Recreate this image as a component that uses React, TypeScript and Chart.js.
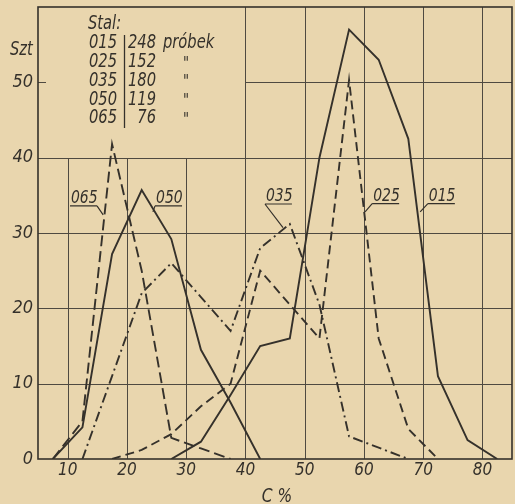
import React, { useEffect, useRef } from 'react';
import { Chart, registerables } from 'chart.js';

Chart.register(...registerables);

// ---- data (class midpoints in C %, counts "Szt") ----
const xTicks = [10, 20, 30, 40, 50, 60, 70, 80];
const yTicks = [0, 10, 20, 30, 40, 50, 60];

const cls015 = [27.5, 32.5, 37.5, 42.5, 47.5, 52.5, 57.5, 62.5, 67.5, 72.5, 77.5, 82.5];
const val015 = [0, 2.3, 8.5, 15, 16, 40, 57, 53, 42.5, 11, 2.5, 0];

const cls025 = [17.5, 22.5, 27.5, 32.5, 37.5, 42.5, 47.5, 52.5, 57.5, 62.5, 67.5, 72.5];
const val025 = [0, 1.2, 3.3, 7, 10, 25, 20.5, 16, 50.3, 16, 4, 0];

const cls035 = [12.5, 17.5, 22.5, 27.5, 32.5, 37.5, 42.5, 47.5, 52.5, 57.5, 62.5, 67.5];
const val035 = [0, 11, 22, 26, 21.5, 17, 28, 31.2, 20.5, 3, 1.5, 0];

const cls050 = [7.5, 12.5, 17.5, 22.5, 27.5, 32.5, 37.5, 42.5];
const val050 = [0, 4.2, 27.2, 35.7, 29.2, 14.5, 7.5, 0];

const cls065 = [7.5, 12.5, 17.5, 22.5, 27.5, 32.5, 37.5];
const val065 = [0, 5, 41.8, 25, 2.8, 1.4, 0];

const steelGrades = ['015', '025', '035', '050', '065'];
const sampleCounts = ['248', '152', '180', '119', '76'];

const FONT = "'Liberation Sans Narrow', 'DejaVu Sans Condensed', 'Arial Narrow', 'Roboto', sans-serif";
const INK = '#35312b';
const GRID = '#4f4a41';
const BG = '#e9d6ae';
const SQUEEZE = 0.86;

const series = [
  { name: '015', xs: cls015, ys: val015, dash: [] as number[] },
  { name: '025', xs: cls025, ys: val025, dash: [9, 5] },
  { name: '035', xs: cls035, ys: val035, dash: [10, 4, 2, 4] },
  { name: '050', xs: cls050, ys: val050, dash: [] as number[] },
  { name: '065', xs: cls065, ys: val065, dash: [11, 5] },
];

// label annotations: underline-left (data), leader end (data), leader from 'l' or 'r'
const curveLabels = [
  { text: '065', ux: 10.4, uy: 33.6, lx: 16.0, ly: 32.4, side: 'r' },
  { text: '050', ux: 24.75, uy: 33.6, lx: 24.4, ly: 32.8, side: 'l' },
  { text: '035', ux: 43.3, uy: 33.85, lx: 46.35, ly: 30.7, side: 'l' },
  { text: '025', ux: 61.4, uy: 33.9, lx: 60.2, ly: 32.8, side: 'l' },
  { text: '015', ux: 70.8, uy: 33.9, lx: 69.5, ly: 32.8, side: 'l' },
];

const font = (size: number) => `italic ${size}px ${FONT}`;

function txt(ctx: CanvasRenderingContext2D, s: string, x: number, y: number, align: CanvasTextAlign) {
  ctx.save();
  ctx.translate(x, y);
  ctx.scale(SQUEEZE, 1);
  ctx.textAlign = align;
  ctx.fillText(s, 0, 0);
  ctx.restore();
}

export default function App() {
  const ref = useRef<HTMLCanvasElement>(null);

  useEffect(() => {
    const canvas = ref.current!;
    const decor = {
      id: 'decor',
      beforeDatasetsDraw(chart: any) {
        const { ctx, chartArea: a, scales } = chart;
        const x = scales.x, y = scales.y;
        const cutX = Math.round(x.getPixelForValue(40)) + 0.5;
        const cutY = Math.round(y.getPixelForValue(40)) + 0.5;
        ctx.save();
        ctx.strokeStyle = GRID;
        ctx.lineWidth = 1;
        ctx.beginPath();
        for (const v of xTicks) {
          const px = Math.round(x.getPixelForValue(v)) + 0.5;
          ctx.moveTo(px, v < 40 ? cutY : a.top);
          ctx.lineTo(px, a.bottom);
        }
        for (const v of yTicks) {
          if (v === 0 || v === 60) continue;
          const py = Math.round(y.getPixelForValue(v)) + 0.5;
          ctx.moveTo(v > 40 ? cutX : a.left, py);
          ctx.lineTo(a.right, py);
        }
        ctx.stroke();
        // tick mark at 50
        const p50 = Math.round(y.getPixelForValue(50)) + 0.5;
        ctx.beginPath();
        ctx.moveTo(a.left, p50);
        ctx.lineTo(a.left + 8, p50);
        ctx.stroke();
        // frame
        ctx.strokeStyle = INK;
        ctx.lineWidth = 1.6;
        ctx.strokeRect(a.left, a.top, a.right - a.left, a.bottom - a.top);
        ctx.restore();
      },
      afterDraw(chart: any) {
        const { ctx, chartArea: a, scales } = chart;
        const x = scales.x, y = scales.y;
        ctx.save();
        ctx.fillStyle = INK;
        ctx.strokeStyle = INK;
        ctx.textBaseline = 'middle';
        // "Szt"
        ctx.font = font(19);
        txt(ctx, 'Szt', a.left - 28, a.top + 43, 'left');
        // legend table
        const L = a.left, T = a.top;
        ctx.font = font(19);
        txt(ctx, 'Stal:', L + 50, T + 17.5, 'left');
        steelGrades.forEach((g, i) => {
          const cy = T + 36.5 + i * 18.7;
          txt(ctx, g, L + 51, cy, 'left');
          txt(ctx, sampleCounts[i], L + 118, cy, 'right');
          if (i === 0) {
            txt(ctx, 'próbek', L + 125, cy, 'left');
          } else {
            ctx.font = font(17);
            txt(ctx, '"', L + 148, cy + 2, 'center');
            ctx.font = font(19);
          }
        });
        ctx.lineWidth = 1.3;
        ctx.beginPath();
        ctx.moveTo(L + 86.5, T + 28);
        ctx.lineTo(L + 86.5, T + 121);
        ctx.stroke();
        // "C %"
        ctx.font = font(20);
        txt(ctx, 'C %', (a.left + a.right) / 2 + 2, a.bottom + 38, 'center');
        // curve labels
        ctx.font = font(18);
        ctx.textBaseline = 'alphabetic';
        ctx.lineWidth = 1.2;
        for (const c of curveLabels) {
          const ux = x.getPixelForValue(c.ux);
          const uy = y.getPixelForValue(c.uy);
          const w = 27;
          txt(ctx, c.text, ux + 1, uy - 3, 'left');
          ctx.beginPath();
          ctx.moveTo(ux, uy);
          ctx.lineTo(ux + w, uy);
          const sx = c.side === 'r' ? ux + w : ux;
          ctx.moveTo(sx, uy);
          ctx.lineTo(x.getPixelForValue(c.lx), y.getPixelForValue(c.ly));
          ctx.stroke();
        }
        ctx.restore();
      },
    };

    const chart = new Chart(canvas, {
      type: 'line',
      data: {
        datasets: series.map((s) => ({
          label: s.name,
          data: s.xs.map((xv, i) => ({ x: xv, y: s.ys[i] })),
          borderColor: INK,
          borderWidth: 1.9,
          borderDash: s.dash,
          pointRadius: 0,
          fill: false,
          tension: 0,
        })),
      },
      options: {
        responsive: false,
        animation: false,
        layout: { padding: { top: 7, right: 3, left: 0, bottom: 0 } },
        plugins: { legend: { display: false }, tooltip: { enabled: false } },
        scales: {
          x: {
            type: 'linear',
            min: 5,
            max: 85,
            afterBuildTicks: (s: any) => { s.ticks = xTicks.map((v) => ({ value: v })); },
            afterFit: (s: any) => { s.height = 45; s.paddingLeft = 0; s.paddingRight = 0; },
            grid: { display: false, drawTicks: false },
            border: { display: false },
            ticks: {
              color: INK,
              padding: 1,
              maxRotation: 0,
              autoSkip: false,
              font: { family: FONT, size: 17, style: 'italic' },
            },
          },
          y: {
            type: 'linear',
            min: 0,
            max: 60,
            afterBuildTicks: (s: any) => { s.ticks = yTicks.map((v) => ({ value: v })); },
            afterFit: (s: any) => { s.width = 38; s.paddingTop = 0; s.paddingBottom = 0; },
            grid: { display: false, drawTicks: false },
            border: { display: false },
            ticks: {
              color: INK,
              padding: 5,
              autoSkip: false,
              font: { family: FONT, size: 18, style: 'italic' },
              callback: (v: any) => (v === 60 ? '' : String(v)),
            },
          },
        },
      },
      plugins: [decor],
    } as any);
    return () => chart.destroy();
  }, []);

  return (
    <div style={{ position: 'fixed', left: 0, top: 0, width: 515, height: 504, background: BG }}>
      <canvas ref={ref} width={515} height={504} style={{ display: 'block' }} />
    </div>
  );
}
